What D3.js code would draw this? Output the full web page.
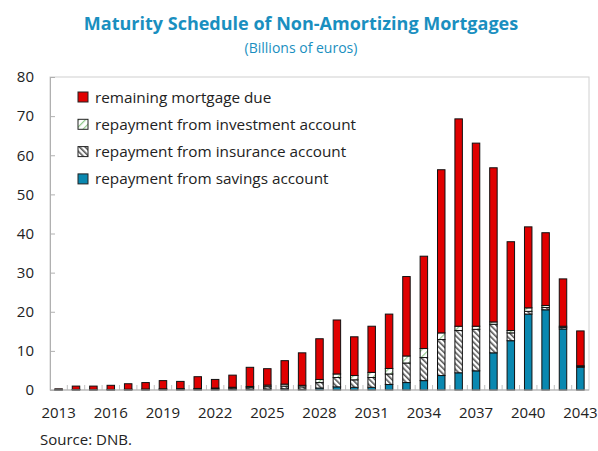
<!DOCTYPE html>
<meta charset="utf-8">
<script src="https://d3js.org/d3.v7.min.js"></script>
<style>
  body { margin: 0; background: #fff; }
  text { font-family: "Open Sans", "Noto Sans", sans-serif; }
</style>
<body>
<svg id="chart" width="598" height="451"></svg>
<script>
// categories
var years = ["2013","2014","2015","2016","2017","2018","2019","2020","2021","2022",
  "2023","2024","2025","2026","2027","2028","2029","2030","2031","2032",
  "2033","2034","2035","2036","2037","2038","2039","2040","2041","2042","2043"];

// series (billions of euros), bottom to top
var savings = [0.05,0.05,0.05,0.05,0.05,0.05,0.1,0.1,0.1,0.1,0.15,0.2,0.25,0.3,0.2,0.5,
  0.8,0.7,0.7,1.4,1.9,2.4,3.7,4.4,4.9,9.5,12.6,19.4,20.5,15.6,5.8];
var insurance = [0.05,0.05,0.05,0.05,0.1,0.1,0.1,0.15,0.2,0.2,0.35,0.4,0.6,0.7,0.6,1.4,
  2.4,1.9,2.5,2.7,5.0,5.9,9.2,10.8,10.6,7.3,2.0,0.7,0.6,0.4,0.2];
var investment = [0,0.05,0.05,0.05,0.05,0.1,0.1,0.1,0.1,0.2,0.2,0.3,0.4,0.5,0.4,0.8,
  0.9,1.1,1.3,1.4,1.8,2.3,1.7,1.1,0.8,0.6,0.6,0.9,0.5,0.3,0.2];
var remaining = [0.2,0.85,0.85,1.05,1.4,1.65,2.1,1.85,3.0,2.2,3.1,4.9,4.2,6.0,8.3,10.4,
  13.8,9.9,11.8,13.9,20.3,23.6,41.7,53.0,46.8,39.4,22.7,20.7,18.6,12.1,8.9];

var yTicks = [0,10,20,30,40,50,60,70,80];
var xLabels = ["2013","2016","2019","2022","2025","2028","2031","2034","2037","2040","2043"];

var seriesKeys = ["savings","insurance","investment","remaining"];
var legendItems = [
  {key: "remaining", label: "remaining mortgage due"},
  {key: "investment", label: "repayment from investment account"},
  {key: "insurance", label: "repayment from insurance account"},
  {key: "savings", label: "repayment from savings account"}
];

var rows = years.map(function(y, i) {
  return {year: y, savings: savings[i], insurance: insurance[i],
          investment: investment[i], remaining: remaining[i]};
});

var svg = d3.select("#chart");
var margin = {left: 50, right: 9, top: 77, bottom: 61};
var W = 598, H = 451;

var x = d3.scaleBand().domain(years)
  .range([margin.left, W - margin.right]).paddingInner(0.57).paddingOuter(0.28);
var y = d3.scaleLinear().domain([0, 80]).range([H - margin.bottom, margin.top]);

// patterns
var defs = svg.append("defs");
var pIns = defs.append("pattern").attr("id", "pIns")
  .attr("patternUnits", "userSpaceOnUse").attr("width", 4).attr("height", 4)
  .attr("patternTransform", "rotate(-45)");
pIns.append("rect").attr("width", 4).attr("height", 4).attr("fill", "#fff");
pIns.append("rect").attr("width", 1.6).attr("height", 4).attr("fill", "#555");

var pInv = defs.append("pattern").attr("id", "pInv")
  .attr("patternUnits", "userSpaceOnUse").attr("width", 5).attr("height", 5)
  .attr("patternTransform", "rotate(45)");
pInv.append("rect").attr("width", 5).attr("height", 5).attr("fill", "#fff");
pInv.append("rect").attr("width", 1.2).attr("height", 5).attr("fill", "#8fc78a");

var fills = {savings: "#0a88b0", insurance: "url(#pIns)", investment: "url(#pInv)", remaining: "#e00000"};

// title
svg.append("text").attr("x", 301).attr("y", 30).attr("text-anchor", "middle")
  .attr("font-size", 18).attr("font-weight", "bold").attr("fill", "#1a8fc0")
  .text("Maturity Schedule of Non-Amortizing Mortgages");
svg.append("text").attr("x", 301).attr("y", 53).attr("text-anchor", "middle")
  .attr("font-size", 14).attr("fill", "#1a8fc0")
  .text("(Billions of euros)");

// frame
svg.append("rect").attr("x", margin.left).attr("y", margin.top)
  .attr("width", W - margin.left - margin.right).attr("height", H - margin.top - margin.bottom)
  .attr("fill", "none").attr("stroke", "#d0d0d0").attr("stroke-width", 1);

// y axis
var yAxis = svg.append("g").attr("transform", "translate(" + margin.left + ",0)")
  .call(d3.axisRight(y).tickValues(yTicks).tickSize(5).tickFormat(d3.format("d")));
yAxis.select(".domain").attr("stroke", "#b0b0b0");
yAxis.selectAll(".tick line").attr("stroke", "#b0b0b0");
yAxis.selectAll(".tick text").attr("x", -16).attr("text-anchor", "end")
  .attr("font-size", 15).attr("fill", "#222").attr("font-family", "Open Sans, sans-serif");

// x tick marks between bars
svg.append("g").selectAll("line")
  .data(years.slice(1))
  .join("line")
  .attr("x1", function(d) { return x(d) - x.step() * x.paddingInner() / 2; })
  .attr("x2", function(d) { return x(d) - x.step() * x.paddingInner() / 2; })
  .attr("y1", y(0)).attr("y2", y(0) - 5)
  .attr("stroke", "#c0c0c0");

// bars
var stacked = d3.stack().keys(seriesKeys)(rows);
svg.append("g").selectAll("g")
  .data(stacked)
  .join("g")
  .attr("fill", function(s) { return fills[s.key]; })
  .selectAll("rect")
  .data(function(s) { return s; })
  .join("rect")
  .attr("x", function(d) { return x(d.data.year); })
  .attr("width", x.bandwidth())
  .attr("y", function(d) { return y(d[1]); })
  .attr("height", function(d) { return y(d[0]) - y(d[1]); })
  .attr("stroke", "#111").attr("stroke-width", 1);

// baseline
svg.append("line").attr("x1", margin.left).attr("x2", W - margin.right)
  .attr("y1", y(0)).attr("y2", y(0)).attr("stroke", "#b0b0b0");

// x labels
svg.append("g").selectAll("text")
  .data(xLabels)
  .join("text")
  .attr("x", function(d) { return x(d) + x.bandwidth() / 2; })
  .attr("y", 418).attr("text-anchor", "middle")
  .attr("font-size", 15).attr("fill", "#222")
  .text(function(d) { return d; });

// legend
var lg = svg.append("g").selectAll("g")
  .data(legendItems)
  .join("g")
  .attr("transform", function(d, i) { return "translate(78," + (92 + i * 27.3) + ")"; });
lg.append("rect").attr("width", 10).attr("height", 10)
  .attr("fill", function(d) { return fills[d.key]; })
  .attr("stroke", "#222").attr("stroke-width", 1);
lg.append("text").attr("x", 17).attr("y", 10.5)
  .attr("font-size", 15.3).attr("fill", "#222")
  .text(function(d) { return d.label; });

// source
svg.append("text").attr("x", 40).attr("y", 445)
  .attr("font-size", 15).attr("fill", "#222").text("Source: DNB.");
</script>
</body>
